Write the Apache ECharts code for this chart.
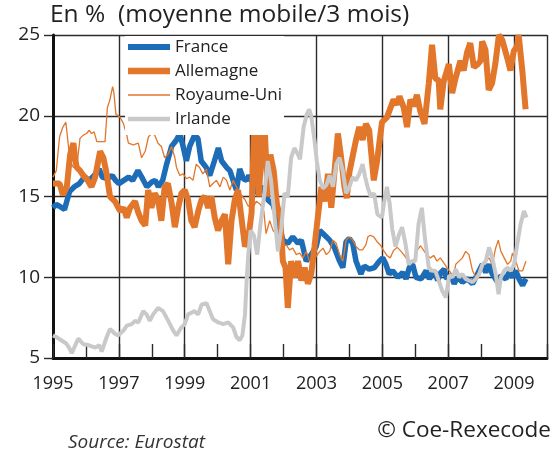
<!DOCTYPE html>
<html>
<head>
<meta charset="utf-8">
<script src="https://cdn.jsdelivr.net/npm/echarts@6/dist/echarts.min.js"></script>
<style>
  html, body { margin: 0; padding: 0; background: #fff; }
  #chart { width: 556px; height: 452px; }
</style>
</head>
<body>
<div id="chart"></div>
<script>
// noms des séries (ordre de la légende)
const seriesNames = ['France', 'Allemagne', 'Royaume-Uni', 'Irlande']

// [année décimale, %]
const franceData = [
  [1995.0,14.3],[1995.1,14.5],[1995.2,14.4],[1995.35,14.2],[1995.5,15.3],[1995.65,15.6],[1995.8,15.8],[1995.95,16.2],
  [1996.1,16.0],[1996.25,16.3],[1996.4,16.7],[1996.5,16.2],[1996.65,16.1],[1996.8,16.3],[1996.9,16.0],[1997.0,15.8],
  [1997.15,16.0],[1997.3,16.2],[1997.42,16.0],[1997.58,16.6],[1997.72,16.1],[1997.85,15.6],[1998.0,15.9],[1998.1,16.0],
  [1998.2,15.6],[1998.33,16.0],[1998.45,17.0],[1998.6,18.1],[1998.75,18.5],[1998.85,18.9],[1998.95,18.1],[1999.05,17.2],
  [1999.15,18.1],[1999.3,18.8],[1999.4,18.6],[1999.5,17.2],[1999.65,16.8],[1999.76,16.3],[1999.9,17.2],[2000.02,18.0],
  [2000.12,17.2],[2000.27,16.8],[2000.37,16.6],[2000.47,16.0],[2000.57,15.4],[2000.67,16.7],[2000.78,16.1],[2000.88,16.0],
  [2000.95,16.3],[2001.05,15.9],[2001.17,15.2],[2001.37,15.6],[2001.52,14.8],[2001.68,14.5],[2001.83,13.5],[2001.98,12.3],
  [2002.13,12.1],[2002.28,12.5],[2002.44,12.1],[2002.54,12.3],[2002.69,11.0],[2002.84,11.4],[2002.99,11.9],[2003.1,12.9],
  [2003.25,12.6],[2003.4,12.3],[2003.55,11.8],[2003.7,11.0],[2003.8,10.6],[2003.9,12.2],[2004.0,12.4],[2004.1,12.1],
  [2004.2,11.0],[2004.35,10.2],[2004.45,10.7],[2004.6,10.5],[2004.76,10.6],[2004.91,11.0],[2005.01,11.2],[2005.11,10.8],
  [2005.21,10.2],[2005.31,10.4],[2005.47,10.0],[2005.62,10.3],[2005.72,9.9],[2005.82,10.6],[2005.92,10.8],[2006.02,10.0],
  [2006.18,9.9],[2006.33,10.4],[2006.43,9.9],[2006.58,10.4],[2006.68,9.8],[2006.78,10.3],[2006.88,10.5],[2006.95,9.9],
  [2007.08,10.1],[2007.18,9.6],[2007.28,10.0],[2007.43,9.7],[2007.58,9.9],[2007.74,9.6],[2007.84,10.0],[2007.94,10.4],
  [2008.04,10.8],[2008.14,10.3],[2008.24,10.8],[2008.34,10.2],[2008.5,9.7],[2008.6,10.1],[2008.75,9.9],[2008.85,10.3],
  [2008.95,10.0],[2009.05,10.4],[2009.15,9.9],[2009.26,9.5],[2009.36,9.9]
]

const allemagneData = [
  [1995.0,15.8],[1995.2,15.8],[1995.3,15.1],[1995.42,15.6],[1995.47,16.6],[1995.52,17.6],[1995.62,18.3],[1995.67,17.4],
  [1995.72,16.8],[1995.82,16.6],[1995.92,16.3],[1996.02,16.1],[1996.17,15.6],[1996.28,16.2],[1996.43,17.8],[1996.53,17.4],
  [1996.63,16.4],[1996.73,15.0],[1996.88,14.7],[1997.04,14.1],[1997.14,14.3],[1997.24,13.7],[1997.34,14.3],[1997.49,14.7],
  [1997.59,14.0],[1997.69,13.5],[1997.8,13.2],[1997.89,15.4],[1997.99,14.3],[1998.09,15.2],[1998.19,14.8],[1998.29,13.5],
  [1998.39,15.6],[1998.49,15.8],[1998.6,14.6],[1998.7,13.1],[1998.8,14.3],[1998.9,15.2],[1999.0,15.4],[1999.1,14.8],
  [1999.2,13.5],[1999.3,13.1],[1999.41,14.1],[1999.51,14.8],[1999.61,15.0],[1999.71,14.3],[1999.81,15.0],[1999.91,13.7],
  [2000.01,12.9],[2000.12,13.5],[2000.22,13.9],[2000.32,10.8],[2000.42,13.5],[2000.52,14.8],[2000.62,15.4],[2000.72,13.7],
  [2000.83,11.9],[2000.93,12.4],[2001.03,14.0],[2001.13,21.0],[2001.25,15.0],[2001.4,20.5],[2001.52,15.0],[2001.6,17.6],
  [2001.7,16.6],[2001.8,14.5],[2001.9,13.7],[2001.98,11.0],[2002.06,10.6],[2002.13,8.1],[2002.23,11.0],[2002.33,10.0],
  [2002.44,11.0],[2002.54,9.8],[2002.64,10.6],[2002.74,9.6],[2002.84,10.2],[2002.94,11.9],[2003.04,13.7],[2003.15,15.6],
  [2003.25,14.7],[2003.35,16.4],[2003.45,14.3],[2003.55,16.6],[2003.65,18.9],[2003.75,17.4],[2003.85,15.6],[2003.92,14.9],
  [2004.0,16.5],[2004.1,17.5],[2004.2,18.5],[2004.3,19.3],[2004.4,18.5],[2004.5,19.5],[2004.6,19.1],[2004.74,16.0],
  [2004.84,17.2],[2004.99,19.6],[2005.14,19.9],[2005.34,21.0],[2005.44,20.7],[2005.52,21.2],[2005.65,20.5],[2005.75,19.3],
  [2005.85,21.0],[2005.95,20.6],[2006.05,21.3],[2006.15,20.3],[2006.28,19.5],[2006.41,22.0],[2006.51,24.4],[2006.61,22.3],
  [2006.71,22.2],[2006.76,20.4],[2006.86,22.1],[2007.02,23.2],[2007.12,21.4],[2007.22,22.3],[2007.37,23.4],[2007.47,22.8],
  [2007.57,23.9],[2007.67,24.5],[2007.78,23.0],[2007.9,23.2],[2007.98,23.4],[2008.03,24.6],[2008.13,24.1],[2008.23,21.6],
  [2008.33,22.0],[2008.43,23.2],[2008.54,25.0],[2008.64,24.7],[2008.79,23.6],[2008.89,22.8],[2008.99,24.0],[2009.09,24.3],
  [2009.14,25.0],[2009.25,22.8],[2009.35,20.4]
]

const royaumeUniData = [
  [1995.0,16.2],[1995.1,16.6],[1995.2,18.7],[1995.3,19.3],[1995.39,19.6],[1995.47,18.1],[1995.52,17.2],[1995.62,16.8],
  [1995.72,16.8],[1995.82,18.6],[1995.92,18.8],[1996.02,18.9],[1996.1,19.1],[1996.17,18.9],[1996.25,19.0],[1996.33,18.4],
  [1996.43,18.4],[1996.58,18.4],[1996.65,20.5],[1996.73,21.0],[1996.81,21.8],[1996.85,21.4],[1996.91,20.1],[1997.04,19.9],
  [1997.14,19.5],[1997.24,18.8],[1997.29,18.3],[1997.44,18.2],[1997.59,18.3],[1997.69,17.4],[1997.8,17.8],[1997.9,18.7],
  [1998.0,18.9],[1998.09,18.8],[1998.19,18.3],[1998.29,18.1],[1998.39,17.4],[1998.49,17.6],[1998.6,18.1],[1998.7,17.4],
  [1998.75,16.8],[1998.85,16.3],[1998.95,16.4],[1999.05,16.1],[1999.15,16.2],[1999.25,16.0],[1999.35,17.0],[1999.45,16.8],
  [1999.55,16.4],[1999.66,16.7],[1999.76,15.6],[1999.86,15.8],[1999.96,16.0],[2000.07,15.6],[2000.17,16.2],[2000.27,16.0],
  [2000.37,15.4],[2000.47,16.0],[2000.57,15.6],[2000.67,15.2],[2000.83,14.8],[2000.93,14.4],[2001.0,14.5],[2001.07,14.3],
  [2001.17,14.7],[2001.3,14.5],[2001.4,14.1],[2001.47,12.7],[2001.58,13.5],[2001.68,12.9],[2001.78,12.7],[2001.88,12.5],
  [2001.98,11.9],[2002.08,12.0],[2002.18,11.7],[2002.28,11.8],[2002.39,11.4],[2002.49,11.5],[2002.59,11.2],[2002.69,11.6],
  [2002.79,11.0],[2002.89,11.2],[2002.99,11.3],[2003.1,11.6],[2003.2,11.8],[2003.3,11.4],[2003.4,11.6],[2003.5,12.3],
  [2003.6,12.1],[2003.7,11.4],[2003.8,11.0],[2003.9,12.3],[2004.0,12.5],[2004.1,12.3],[2004.2,11.9],[2004.3,11.7],
  [2004.4,11.7],[2004.5,12.0],[2004.56,12.5],[2004.64,12.6],[2004.74,12.5],[2004.84,12.2],[2004.94,12.0],[2005.04,11.65],
  [2005.14,11.35],[2005.24,11.2],[2005.34,11.65],[2005.45,11.85],[2005.55,11.65],[2005.65,11.4],[2005.75,11.1],[2005.85,10.8],
  [2005.95,11.0],[2006.05,11.65],[2006.16,11.95],[2006.26,11.65],[2006.36,11.35],[2006.46,11.2],[2006.56,11.35],[2006.66,11.0],
  [2006.76,11.2],[2006.86,10.9],[2006.96,10.6],[2007.07,10.3],[2007.15,10.0],[2007.23,10.8],[2007.33,11.0],[2007.43,11.2],
  [2007.53,11.6],[2007.63,11.4],[2007.74,10.4],[2007.84,10.0],[2007.94,10.4],[2008.04,10.8],[2008.14,11.0],[2008.24,11.2],
  [2008.34,10.8],[2008.44,11.8],[2008.52,12.3],[2008.6,11.6],[2008.7,11.2],[2008.8,10.8],[2008.9,11.0],[2008.95,11.5],
  [2009.05,11.0],[2009.15,10.4],[2009.26,10.4],[2009.36,11.0]
]

const irlandeData = [
  [1995.0,6.4],[1995.1,6.3],[1995.25,6.1],[1995.4,5.9],[1995.5,5.6],[1995.57,5.3],[1995.7,5.9],[1995.77,6.2],
  [1995.92,5.85],[1996.07,5.8],[1996.2,5.7],[1996.3,5.65],[1996.4,5.8],[1996.48,5.4],[1996.63,6.3],[1996.73,6.8],
  [1996.88,6.5],[1996.98,6.4],[1997.14,6.7],[1997.24,7.0],[1997.39,7.1],[1997.49,7.3],[1997.59,7.2],[1997.74,7.9],
  [1997.84,7.7],[1997.94,7.3],[1998.04,7.7],[1998.19,8.1],[1998.34,7.9],[1998.5,7.3],[1998.65,6.7],[1998.75,6.4],
  [1998.9,6.9],[1999.0,7.1],[1999.1,7.7],[1999.2,7.8],[1999.3,7.9],[1999.41,7.7],[1999.51,8.3],[1999.66,8.4],
  [1999.76,7.9],[1999.86,7.4],[2000.02,7.2],[2000.17,7.1],[2000.32,7.2],[2000.47,6.9],[2000.57,6.3],[2000.67,6.1],
  [2000.75,6.4],[2000.83,7.7],[2000.88,9.8],[2000.93,11.4],[2001.0,12.9],[2001.1,12.6],[2001.2,11.4],[2001.3,13.3],
  [2001.42,15.2],[2001.52,17.2],[2001.62,16.0],[2001.72,13.9],[2001.83,11.6],[2001.93,13.0],[2002.03,15.2],[2002.13,15.0],
  [2002.23,17.4],[2002.33,18.0],[2002.44,17.6],[2002.5,17.3],[2002.61,19.3],[2002.71,20.1],[2002.78,20.4],[2002.84,20.0],
  [2002.94,18.5],[2003.01,17.2],[2003.1,16.0],[2003.2,15.5],[2003.3,15.7],[2003.4,16.3],[2003.5,15.6],[2003.6,17.0],
  [2003.7,17.4],[2003.8,16.6],[2003.9,15.2],[2004.0,15.6],[2004.1,16.2],[2004.2,16.0],[2004.3,16.4],[2004.4,17.0],
  [2004.48,16.2],[2004.55,15.6],[2004.65,15.0],[2004.75,15.2],[2004.85,13.9],[2004.99,13.7],[2005.05,14.6],[2005.14,15.6],
  [2005.22,14.6],[2005.3,13.0],[2005.4,11.9],[2005.5,12.6],[2005.6,13.1],[2005.7,12.1],[2005.8,10.8],[2005.9,11.0],
  [2006.0,11.0],[2006.1,13.3],[2006.2,14.3],[2006.3,12.3],[2006.41,10.6],[2006.51,10.4],[2006.61,10.4],[2006.71,9.8],
  [2006.81,9.2],[2006.93,8.75],[2007.03,10.1],[2007.13,10.0],[2007.23,10.5],[2007.33,10.0],[2007.43,10.2],[2007.53,9.9],
  [2007.63,9.8],[2007.74,9.7],[2007.84,9.9],[2007.94,10.2],[2008.04,10.8],[2008.14,11.0],[2008.24,11.85],[2008.34,11.2],
  [2008.44,10.2],[2008.53,8.95],[2008.6,10.0],[2008.7,10.4],[2008.8,10.6],[2008.9,10.4],[2009.0,10.8],[2009.1,12.1],
  [2009.2,13.3],[2009.3,14.1],[2009.38,13.7]
]

const font = '"Open Sans", "Noto Sans", sans-serif'
const gridColor = '#2b2b2b'

const chart = echarts.init(document.getElementById('chart'))

// icône de légende : un simple trait horizontal d'épaisseur h (boîte 42x14)
function legendIcon(h) {
  const y0 = 7 - h / 2
  return 'path://M0,0h0.01v0.01h-0.01z' +
    'M0,' + y0 + 'h42v' + h + 'h-42z' +
    'M41.99,13.99h0.01v0.01h-0.01z'
}

function lineSerie(name, data, color, width) {
  return {
    name: name,
    type: 'line',
    data: data,
    symbol: 'none',
    xAxisIndex: 0,
    lineStyle: { color: color, width: width },
    itemStyle: { color: color },
    emphasis: { disabled: true }
  }
}

const option = {
  animation: false,
  textStyle: { fontFamily: font },
  title: [
    {
      text: 'En %  (moyenne mobile/3 mois)',
      left: 50, top: 3, padding: 0,
      textStyle: { fontSize: 24.5, fontWeight: 'normal', color: '#222', fontFamily: font }
    },
    {
      text: '© Coe-Rexecode',
      right: 5, top: 419, padding: 0,
      textStyle: { fontSize: 22.5, fontWeight: 'normal', color: '#222', fontFamily: font }
    },
    {
      text: 'Source: Eurostat',
      left: 68, top: 433, padding: 0,
      textStyle: { fontSize: 19, fontWeight: 'normal', fontStyle: 'italic', color: '#333', fontFamily: font }
    }
  ],
  legend: {
    orient: 'vertical',
    left: 125, top: 36,
    data: [
      { name: seriesNames[0], icon: legendIcon(6) },
      { name: seriesNames[1], icon: legendIcon(6.5) },
      { name: seriesNames[2], icon: legendIcon(1.4) },
      { name: seriesNames[3], icon: legendIcon(4.5) }
    ],
    backgroundColor: '#fff',
    padding: [2, 2, 7, 3],
    itemGap: 6,
    itemWidth: 42,
    itemHeight: 14,
    textStyle: { fontSize: 17, lineHeight: 18, color: '#222', fontFamily: font }
  },
  grid: { left: 53, right: 9, top: 35, bottom: 94 },
  xAxis: [
    {
      type: 'value', min: 1995, max: 2010, interval: 2,
      axisLine: { show: true, lineStyle: { color: '#111', width: 3 } },
      axisTick: { show: false },
      axisLabel: {
        fontSize: 18, color: '#222', margin: 17, fontFamily: font,
        formatter: v => (v === 2010 ? '' : String(v))
      },
      splitLine: { show: true, lineStyle: { color: gridColor, width: 1.4 } }
    },
    {
      type: 'value', min: 1995, max: 2010, interval: 1, position: 'bottom',
      axisLine: { show: false },
      axisTick: { show: true, inside: true, length: 14, lineStyle: { color: gridColor, width: 1.4 } },
      axisLabel: { show: false },
      splitLine: { show: false }
    }
  ],
  yAxis: {
    type: 'value', min: 5, max: 25, interval: 5,
    axisLine: { show: true, lineStyle: { color: '#111', width: 3 } },
    axisTick: { show: true, length: 9, lineStyle: { color: gridColor, width: 1.4 } },
    axisLabel: { fontSize: 19, color: '#222', margin: 13, fontFamily: font },
    splitLine: { show: true, lineStyle: { color: gridColor, width: 1.4 } }
  },
  series: [
    lineSerie(seriesNames[0], franceData, '#1d6cb7', 5.5),
    lineSerie(seriesNames[1], allemagneData, '#e2762a', 6),
    lineSerie(seriesNames[2], royaumeUniData, '#e2762a', 1.3),
    lineSerie(seriesNames[3], irlandeData, '#c9c9c9', 4)
  ]
}

chart.setOption(option)
</script>
</body>
</html>
